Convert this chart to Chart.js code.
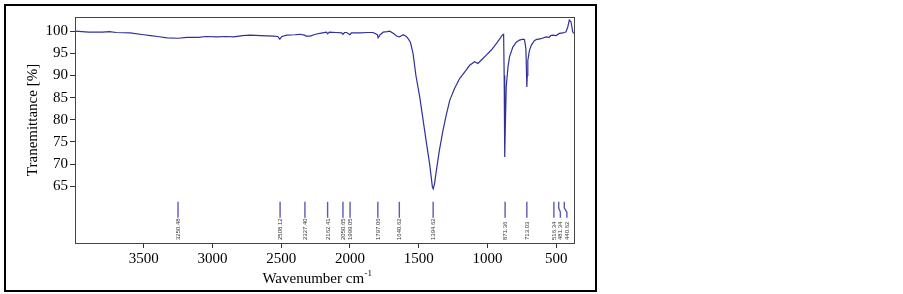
<!DOCTYPE html>
<html>
<head>
<meta charset="utf-8">
<script src="https://cdn.jsdelivr.net/npm/chart.js@4.4.1/dist/chart.umd.min.js"></script>
<style>
  html, body { margin: 0; padding: 0; background: #fff; }
  #wrap { position: relative; width: 903px; height: 294px; }
</style>
</head>
<body>
<div id="wrap"><canvas id="irChart" width="903" height="294"></canvas></div>
<script>
// spectrum (wavenumber cm-1 -> transmittance %)
const wavenumbers = [
  4000, 3900, 3800, 3750, 3700, 3600, 3500, 3450, 3400, 3330, 3250, 3185, 3100, 3050,
  2967, 2900, 2847, 2780, 2726, 2650, 2557, 2525, 2510, 2495, 2459, 2400, 2363, 2330,
  2320, 2290, 2250, 2200, 2170, 2162, 2150, 2100, 2060, 2050, 2040, 2024, 2000, 1990,
  1928, 1870, 1831, 1800, 1795, 1780, 1758, 1730, 1710, 1680, 1661, 1640, 1613, 1590,
  1577, 1560, 1541, 1520, 1492, 1443, 1420, 1400, 1394, 1385, 1371, 1350, 1323, 1300,
  1274, 1240, 1202, 1160, 1129, 1093, 1069, 1040, 1008, 970, 935, 905, 892, 882,
  878, 875, 873, 870, 863, 850, 839, 815, 790, 767, 740, 730, 720, 713,
  710, 706, 695, 681, 660, 645, 610, 573, 550, 540, 525, 500, 476, 450,
  428, 415, 404, 392, 385, 380, 372
];
const transmittance = [
  100.0, 99.8, 99.8, 99.9, 99.7, 99.6, 99.2, 99.0, 98.8, 98.5, 98.4, 98.6, 98.6, 98.8,
  98.7, 98.8, 98.7, 99.0, 99.1, 99.0, 98.9, 98.8, 98.2, 98.8, 99.1, 99.2, 99.3, 99.1,
  98.9, 98.9, 99.3, 99.6, 99.8, 99.4, 99.8, 99.7, 99.6, 99.3, 99.7, 99.7, 99.2, 99.6,
  99.6, 99.7, 99.7, 99.2, 98.5, 99.2, 99.8, 99.9, 100.0, 99.4, 98.9, 98.7, 99.2, 98.8,
  98.3, 97.5, 95.0, 90.0, 85.1, 74.7, 70.0, 64.8, 64.4, 65.5, 68.6, 73.0, 77.6, 81.0,
  84.4, 87.0, 89.3, 91.0, 92.3, 93.1, 92.7, 93.6, 94.6, 95.8, 97.2, 98.5, 99.1, 99.3,
  90.0, 76.9, 71.6, 78.0, 87.4, 92.0, 94.2, 96.4, 97.5, 98.0, 98.2, 98.1, 96.0, 87.4,
  90.0, 93.4, 95.5, 96.8, 97.8, 98.1, 98.3, 98.7, 98.6, 99.0, 99.1, 99.0, 99.5, 99.6,
  99.85, 101.0, 102.5, 102.1, 101.0, 99.85, 99.5
];
const peakPositions = [3250.48, 2508.12, 2327.40, 2162.41, 2050.65, 1999.05, 1797.06,
  1640.62, 1394.62, 871.36, 713.03, 516.34, 481.34, 440.62];
const peakLabels = peakPositions.map(p => p.toFixed(2));
const xTicks = [3500, 3000, 2500, 2000, 1500, 1000, 500];
const yTicks = [100, 95, 90, 85, 80, 75, 70, 65];

const serif = '"Liberation Serif", "Times New Roman", serif';

const decorations = {
  id: 'decorations',
  beforeDraw(chart) {
    const ctx = chart.ctx;
    ctx.save();
    ctx.strokeStyle = '#000';
    ctx.lineWidth = 2;
    ctx.strokeRect(5, 5, 591, 286);
    ctx.restore();
  },
  afterDraw(chart) {
    const ctx = chart.ctx;
    const a = chart.chartArea;
    const xs = chart.scales.x, ys = chart.scales.y;
    ctx.save();
    // plot box
    ctx.strokeStyle = '#444';
    ctx.lineWidth = 1;
    ctx.strokeRect(Math.round(a.left) + 0.5, Math.round(a.top) + 0.5,
      Math.round(a.right - a.left), Math.round(a.bottom - a.top));

    // peak markers with labels
    const yTop = ys.getPixelForValue(61.5);
    const yBot = ys.getPixelForValue(57.9);
    let lastLabelX = -Infinity;
    ctx.strokeStyle = '#5b5bb5';
    ctx.lineWidth = 1.4;
    peakPositions.forEach((p, i) => {
      const px = xs.getPixelForValue(p);
      const lx = Math.max(px, lastLabelX + 6.5);
      lastLabelX = lx;
      ctx.beginPath();
      ctx.moveTo(px, yTop);
      if (lx - px > 0.5) {
        ctx.lineTo(px, yTop + 6);
        ctx.lineTo(lx, yTop + 10.5);
      }
      ctx.lineTo(lx, yBot);
      ctx.stroke();
      ctx.save();
      ctx.translate(lx + 2, a.bottom - 3);
      ctx.rotate(-Math.PI / 2);
      ctx.fillStyle = '#333';
      ctx.font = '6px "Liberation Sans", Arial, sans-serif';
      ctx.textAlign = 'left';
      ctx.textBaseline = 'alphabetic';
      ctx.fillText(peakLabels[i], 0, 0);
      ctx.restore();
    });

    // axis titles
    ctx.fillStyle = '#000';
    ctx.font = '15px ' + serif;
    ctx.save();
    ctx.translate(37, 120);
    ctx.rotate(-Math.PI / 2);
    ctx.textAlign = 'center';
    ctx.fillText('Tranemittance [%]', 0, 0);
    ctx.restore();

    const main = 'Wavenumber cm';
    const sup = '-1';
    const w1 = ctx.measureText(main).width;
    ctx.font = '9px ' + serif;
    const w2 = ctx.measureText(sup).width;
    const x0 = 317 - (w1 + w2) / 2;
    ctx.font = '15px ' + serif;
    ctx.textAlign = 'left';
    ctx.fillText(main, x0, 283);
    ctx.font = '9px ' + serif;
    ctx.fillText(sup, x0 + w1 + 0.5, 276);
    ctx.restore();
  }
};

new Chart(document.getElementById('irChart'), {
  type: 'line',
  data: {
    datasets: [{
      data: wavenumbers.map((w, i) => ({ x: w, y: transmittance[i] })),
      borderColor: '#30309c',
      borderWidth: 1.2,
      pointRadius: 0,
      tension: 0,
      fill: false
    }]
  },
  options: {
    responsive: false,
    devicePixelRatio: 1,
    animation: false,
    layout: { padding: { left: 0, top: 17, right: 329, bottom: 0 } },
    plugins: { legend: { display: false }, tooltip: { enabled: false } },
    scales: {
      x: {
        type: 'linear',
        reverse: true,
        min: 370,
        max: 4000,
        afterBuildTicks: s => { s.ticks = xTicks.map(v => ({ value: v })); },
        afterFit: s => { s.height = 51; },
        grid: { display: true, drawOnChartArea: false, drawTicks: true, tickLength: 5, color: '#333' },
        border: { display: true, color: '#444' },
        ticks: { color: '#000', font: { family: serif, size: 15 }, padding: 2, maxRotation: 0,
          callback: v => String(v) }
      },
      y: {
        type: 'linear',
        min: 52.2,
        max: 103.2,
        afterBuildTicks: s => { s.ticks = yTicks.map(v => ({ value: v })); },
        afterFit: s => { s.width = 75; },
        grid: { display: true, drawOnChartArea: false, drawTicks: true, tickLength: 5, color: '#333' },
        border: { display: true, color: '#444' },
        ticks: { color: '#000', font: { family: serif, size: 15 }, padding: 2,
          callback: v => String(v) }
      }
    }
  },
  plugins: [decorations]
});
</script>
</body>
</html>
